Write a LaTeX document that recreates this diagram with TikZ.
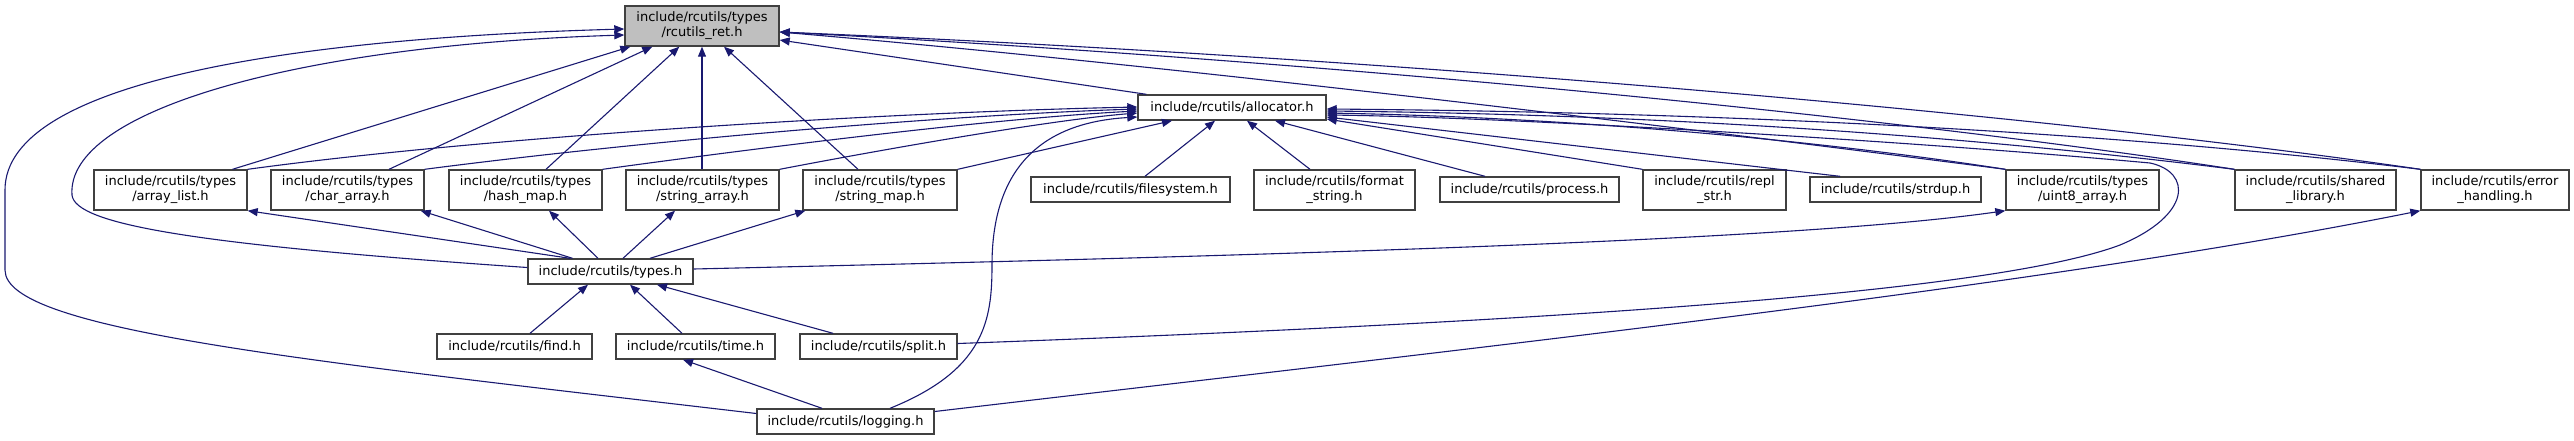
\documentclass[tikz,border=0pt]{standalone}
\usepackage{fontspec}
\setmainfont{DejaVu Sans}
\usetikzlibrary{arrows.meta,calc}
\definecolor{edgecol}{RGB}{25,25,112}
\definecolor{bordercol}{RGB}{64,64,64}
\definecolor{rootfill}{RGB}{191,191,191}
\begin{document}
\begin{tikzpicture}[x=1pt,y=-1pt,
  box/.style={draw=bordercol, line width=1.4pt, fill=white, inner sep=0pt, align=center, font=\fontsize{13}{15}\selectfont},
  twoline/.style={box, minimum height=40pt},
  oneline/.style={box, minimum height=25pt},
  edge/.style={draw=edgecol, line width=1.1pt, -{Triangle[length=10pt,width=8pt]}}]
\useasboundingbox (0,0) rectangle (2574,440);

% nodes
\node[twoline, fill=rootfill, minimum width=154pt] (ret) at (702,26) {include/rcutils/types\\/rcutils\_ret.h};
\node[oneline, minimum width=188pt] (alloc) at (1232,107.5) {include/rcutils/allocator.h};

\node[twoline, minimum width=153pt] (al) at (170.5,190) {include/rcutils/types\\/array\_list.h};
\node[twoline, minimum width=153pt] (ca) at (347.5,190) {include/rcutils/types\\/char\_array.h};
\node[twoline, minimum width=153pt] (hm) at (525.5,190) {include/rcutils/types\\/hash\_map.h};
\node[twoline, minimum width=153pt] (sa) at (702.5,190) {include/rcutils/types\\/string\_array.h};
\node[twoline, minimum width=154pt] (sm) at (880,190) {include/rcutils/types\\/string\_map.h};
\node[oneline, minimum width=199pt] (fs) at (1130.5,189.5) {include/rcutils/filesystem.h};
\node[twoline, minimum width=161pt] (fmt) at (1334.5,190) {include/rcutils/format\\\_string.h};
\node[oneline, minimum width=179pt] (proc) at (1529.5,189.5) {include/rcutils/process.h};
\node[twoline, minimum width=143pt] (repl) at (1714.5,190) {include/rcutils/repl\\\_str.h};
\node[oneline, minimum width=171pt] (sdup) at (1895.5,189.5) {include/rcutils/strdup.h};
\node[twoline, minimum width=153pt] (u8) at (2082.5,190) {include/rcutils/types\\/uint8\_array.h};
\node[twoline, minimum width=161pt] (shl) at (2315.5,190) {include/rcutils/shared\\\_library.h};
\node[twoline, minimum width=148pt] (err) at (2495,190) {include/rcutils/error\\\_handling.h};

\node[oneline, minimum width=165pt] (types) at (610.5,271.5) {include/rcutils/types.h};

\node[oneline, minimum width=155pt] (find) at (514.5,346.5) {include/rcutils/find.h};
\node[oneline, minimum width=159pt] (time) at (695.5,346.5) {include/rcutils/time.h};
\node[oneline, minimum width=157pt] (split) at (878.5,346.5) {include/rcutils/split.h};

\node[oneline, minimum width=177pt] (log) at (845.5,421.5) {include/rcutils/logging.h};

% edges into rcutils_ret.h
\draw[edge] ($(al.north)+(62,0)$) -- ($(ret.south west)+(6,0)$);
\draw[edge] ($(ca.north)+(41.5,0)$) -- ($(ret.south west)+(28,0)$);
\draw[edge] ($(hm.north)+(20.5,0)$) -- ($(ret.south west)+(55,0)$);
\draw[edge] ($(sa.north)+(-0.5,0)$) -- ($(ret.south)+(0,0)$);
\draw[edge] ($(sm.north)+(-22,0)$) -- ($(ret.south)+(22,0)$);
\draw[edge] ($(types.west)+(0,-4)$) .. controls (200,245) and (75,225) .. (72,195)
   .. controls (66,110) and (300,45) .. ($(ret.west)+(0,9)$);
\draw[edge] ($(log.west)+(0,-8)$) .. controls (300,360) and (5,330) .. (5,270) -- (5,190)
   .. controls (5,80) and (300,38) .. ($(ret.west)+(0,3)$);
\draw[edge] ($(alloc.north west)+(9,0)$) -- ($(ret.east)+(0,14)$);
\draw[edge] (u8.north west) .. controls (1700,130) and (1200,68) .. ($(ret.east)+(0,6)$);
\draw[edge] (shl.north west) .. controls (1950,125) and (1400,65) .. ($(ret.east)+(0,6)$);
\draw[edge] (err.north west) .. controls (2050,115) and (1400,58) .. ($(ret.east)+(0,6)$);

% edges into allocator.h
\draw[edge] (al.north east) .. controls (500,135) and (900,112) .. ($(alloc.west)+(0,-0.5)$);
\draw[edge] (ca.north east) .. controls (650,140) and (950,115) .. ($(alloc.west)+(0,1.5)$);
\draw[edge] (hm.north east) .. controls (780,145) and (1000,118) .. ($(alloc.west)+(0,3.5)$);
\draw[edge] (sa.north east) .. controls (880,150) and (1050,120) .. ($(alloc.west)+(0,5.5)$);
\draw[edge] (sm.north east) -- ($(alloc.south)+(-60,0)$);
\draw[edge] ($(log.north)+(44.5,0)$) .. controls (985,370) and (992,320) .. (992,265)
   .. controls (992,160) and (1050,122) .. ($(alloc.west)+(0,9.5)$);
\draw[edge] ($(fs.north)+(14.5,0)$) -- ($(alloc.south)+(-17,0)$);
\draw[edge] ($(fmt.north)+(-24.5,0)$) -- ($(alloc.south)+(15,0)$);
\draw[edge] ($(proc.north)+(-44.5,0)$) -- ($(alloc.south)+(43,0)$);
\draw[edge] (repl.north west) -- ($(alloc.east)+(0,11.5)$);
\draw[edge] ($(sdup.north)+(-55.5,0)$) -- ($(alloc.east)+(0,9.5)$);
\draw[edge] (u8.north west) .. controls (1850,145) and (1600,118) .. ($(alloc.east)+(0,5.5)$);
\draw[edge] (shl.north west) .. controls (2000,140) and (1700,115) .. ($(alloc.east)+(0,3.5)$);
\draw[edge] (err.north west) .. controls (2100,130) and (1700,112) .. ($(alloc.east)+(0,1.5)$);
\draw[edge] ($(split.east)+(0,-3)$) .. controls (1600,320) and (2000,290) .. (2120,245)
   .. controls (2192,215) and (2192,172) .. (2150,163)
   .. controls (1900,140) and (1500,117) .. ($(alloc.east)+(0,7.5)$);

% edges from types.h
\draw[edge] ($(types.north)+(-40.5,0)$) -- (al.south east);
\draw[edge] ($(types.north)+(-38,0)$) -- ($(ca.south east)+(-4,0)$);
\draw[edge] ($(types.north)+(-12.5,0)$) -- ($(hm.south)+(23.5,0)$);
\draw[edge] ($(types.north)+(12.5,0)$) -- ($(sa.south)+(-27.5,0)$);
\draw[edge] ($(types.north)+(39.5,0)$) -- ($(sm.south west)+(3,0)$);
\draw[edge] ($(types.east)+(0,-2.5)$) .. controls (1300,255) and (1800,240) .. (u8.south west);

% edges into types.h
\draw[edge] ($(find.north)+(15.5,0)$) -- ($(types.south)+(-22.5,0)$);
\draw[edge] ($(time.north)+(-13.5,0)$) -- ($(types.south)+(19.5,0)$);
\draw[edge] ($(split.north)+(-45.5,0)$) -- ($(types.south)+(46.5,0)$);

% logging.h
\draw[edge] ($(log.north)+(-23.5,0)$) -- ($(time.south)+(-12.5,0)$);
\draw[edge] ($(log.east)+(0,-10)$) .. controls (1500,345) and (2050,285) .. (err.south west);
\end{tikzpicture}
\end{document}
